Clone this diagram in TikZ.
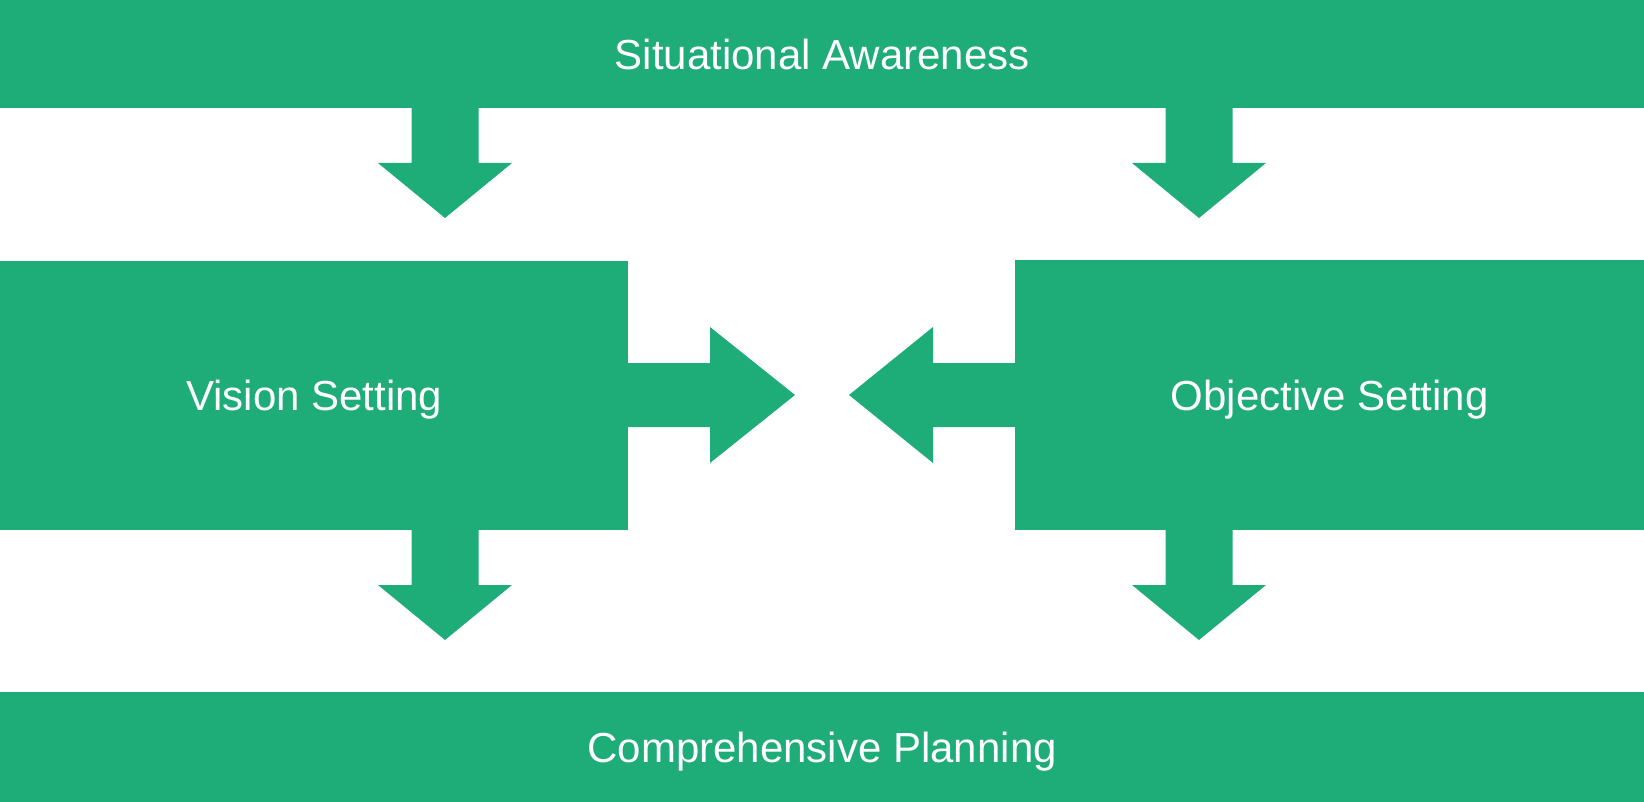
\documentclass[tikz,border=0pt]{standalone}
\usepackage{fontspec}
\setmainfont{Liberation Sans}
\definecolor{gr}{HTML}{1EAC78}
\tikzset{
  bar/.style={fill=gr, draw=none, inner sep=0pt, text=white, text height=30.5pt, text depth=0pt, font=\fontsize{42}{50}\selectfont},
  varrow/.pic={\fill[gr] (-33.5,-1) -- (-33.5,55) -- (-67,55) -- (0,110) -- (67,55) -- (33.5,55) -- (33.5,-1) -- cycle;}
}
\begin{document}
\begin{tikzpicture}[x=1pt,y=-1pt]
\useasboundingbox (0,0) rectangle (1644,802);
\node[bar, minimum width=1644pt, minimum height=108pt, anchor=north west] (sa) at (0,0) {Situational Awareness};
\node[bar, minimum width=628pt, minimum height=269pt, anchor=north west] (vs) at (0,261) {Vision Setting};
\node[bar, minimum width=629pt, minimum height=270pt, anchor=north west] (os) at (1015,260) {Objective Setting};
\node[bar, minimum width=1644pt, minimum height=110pt, anchor=north west] (cp) at (0,692) {Comprehensive Planning};
\coordinate (a1) at (445,108);
\coordinate (a2) at (1199,108);
\coordinate (a3) at (445,530);
\coordinate (a4) at (1199,530);
\pic at (a1) {varrow};
\pic at (a2) {varrow};
\pic at (a3) {varrow};
\pic at (a4) {varrow};
\fill[gr] (vs.east |- 0,363) ++(-1,0) -- (710,363) -- (710,327) -- (795,395) -- (710,463) -- (710,427) -- (627,427) -- cycle;
\fill[gr] (os.west |- 0,363) ++(1,0) -- (933,363) -- (933,327) -- (849,395) -- (933,463) -- (933,427) -- (1016,427) -- cycle;
\end{tikzpicture}
\end{document}
